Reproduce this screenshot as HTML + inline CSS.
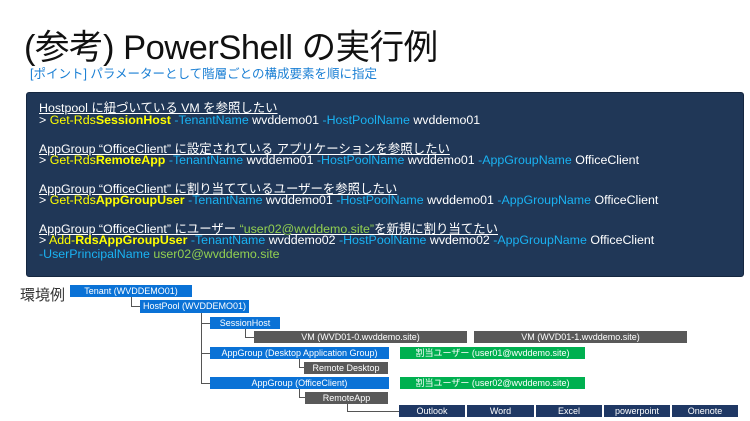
<!DOCTYPE html>
<html><head><meta charset="utf-8"><style>
body{margin:0;width:750px;height:421px;background:#fff;position:relative;overflow:hidden;font-family:"Liberation Sans","Noto Sans CJK JP",sans-serif}
.a{position:absolute;white-space:nowrap}
.b{position:absolute;color:#fff;font-size:9px;text-align:center;line-height:12px;height:12px}
.bl{background:#0a72d6}.gr{background:#595959}.gn{background:#00b050}.nv{background:#1f3864}
.ln{position:absolute;background:#555}
.code{position:absolute;left:26px;top:92px;width:716px;height:183px;background:#203757;border-radius:3px;border:1px solid #152740}
.code div{position:absolute;left:12px;font-size:12.4px;color:#fff;white-space:nowrap}
.y{color:#ffff00}.c{color:#1ab2f2}.g{color:#92d050}
u{text-decoration:underline}
</style></head><body>
<div class="a" style="left:24px;top:19px;font-size:34.5px;color:#111;letter-spacing:-0.5px">(参考) PowerShell の実行例</div>
<div class="a" style="left:30px;top:63px;font-size:12.5px;color:#1a7fd4">[ポイント] パラメーターとして階層ごとの構成要素を順に指定</div>
<div class="code">
<div style="top:5px"><u>Hostpool に紐づいている VM を参照したい</u></div>
<div style="top:20px">&gt; <span class="y">Get-Rds<b>SessionHost</b></span> <span class="c">-TenantName</span> wvddemo01 <span class="c">-HostPoolName</span> wvddemo01</div>
<div style="top:46px"><u>AppGroup “OfficeClient” に設定されている アプリケーションを参照したい</u></div>
<div style="top:60px">&gt; <span class="y">Get-Rds<b>RemoteApp</b></span> <span class="c">-TenantName</span> wvddemo01 <span class="c">-HostPoolName</span> wvddemo01 <span class="c">-AppGroupName</span> OfficeClient</div>
<div style="top:86px"><u>AppGroup “OfficeClient” に割り当てているユーザーを参照したい</u></div>
<div style="top:100px">&gt; <span class="y">Get-Rds<b>AppGroupUser</b></span> <span class="c">-TenantName</span> wvddemo01 <span class="c">-HostPoolName</span> wvddemo01 <span class="c">-AppGroupName</span> OfficeClient</div>
<div style="top:126px"><u>AppGroup “OfficeClient” にユーザー <span class="g">“user02@wvddemo.site”</span>を新規に割り当てたい</u></div>
<div style="top:140px">&gt; <span class="y">Add-<b>RdsAppGroupUser</b></span> <span class="c">-TenantName</span> wvddemo02 <span class="c">-HostPoolName</span> wvdemo02 <span class="c">-AppGroupName</span> OfficeClient</div>
<div style="top:154px"><span class="c">-UserPrincipalName</span> <span class="g">user02@wvddemo.site</span></div>
</div>
<div class="a" style="left:20px;top:284px;font-size:15px;color:#333">環境例</div>
<div class="ln" style="left:131px;top:297px;width:1px;height:10px"></div><div class="ln" style="left:131px;top:306px;width:9px;height:1px"></div>
<div class="ln" style="left:201px;top:313px;width:1px;height:70px"></div>
<div class="ln" style="left:201px;top:323px;width:9px;height:1px"></div>
<div class="ln" style="left:201px;top:353px;width:9px;height:1px"></div>
<div class="ln" style="left:201px;top:383px;width:9px;height:1px"></div>
<div class="ln" style="left:245px;top:329px;width:1px;height:8px"></div><div class="ln" style="left:245px;top:337px;width:9px;height:1px"></div>
<div class="ln" style="left:299px;top:359px;width:1px;height:8px"></div><div class="ln" style="left:299px;top:367px;width:5px;height:1px"></div>
<div class="ln" style="left:299px;top:389px;width:1px;height:8px"></div><div class="ln" style="left:299px;top:397px;width:6px;height:1px"></div>
<div class="ln" style="left:347px;top:403px;width:1px;height:8px"></div><div class="ln" style="left:347px;top:411px;width:52px;height:1px"></div>
<div class="b bl" style="left:70px;top:285px;width:122px">Tenant (WVDDEMO01)</div>
<div class="b bl" style="left:140px;top:300px;width:109px;height:13px">HostPool (WVDDEMO01)</div>
<div class="b bl" style="left:210px;top:317px;width:70px">SessionHost</div>
<div class="b gr" style="left:254px;top:331px;width:213px">VM (WVD01-0.wvddemo.site)</div>
<div class="b gr" style="left:474px;top:331px;width:213px">VM (WVD01-1.wvddemo.site)</div>
<div class="b bl" style="left:210px;top:347px;width:179px">AppGroup (Desktop Application Group)</div>
<div class="b gn" style="left:400px;top:347px;width:185px">割当ユーザー (user01@wvddemo.site)</div>
<div class="b gr" style="left:304px;top:362px;width:84px">Remote Desktop</div>
<div class="b bl" style="left:210px;top:377px;width:179px">AppGroup (OfficeClient)</div>
<div class="b gn" style="left:400px;top:377px;width:185px">割当ユーザー (user02@wvddemo.site)</div>
<div class="b gr" style="left:305px;top:392px;width:83px">RemoteApp</div>
<div class="b nv" style="left:399px;top:405px;width:66px">Outlook</div>
<div class="b nv" style="left:467px;top:405px;width:67px">Word</div>
<div class="b nv" style="left:536px;top:405px;width:66px">Excel</div>
<div class="b nv" style="left:604px;top:405px;width:66px">powerpoint</div>
<div class="b nv" style="left:672px;top:405px;width:66px">Onenote</div>
</body></html>
